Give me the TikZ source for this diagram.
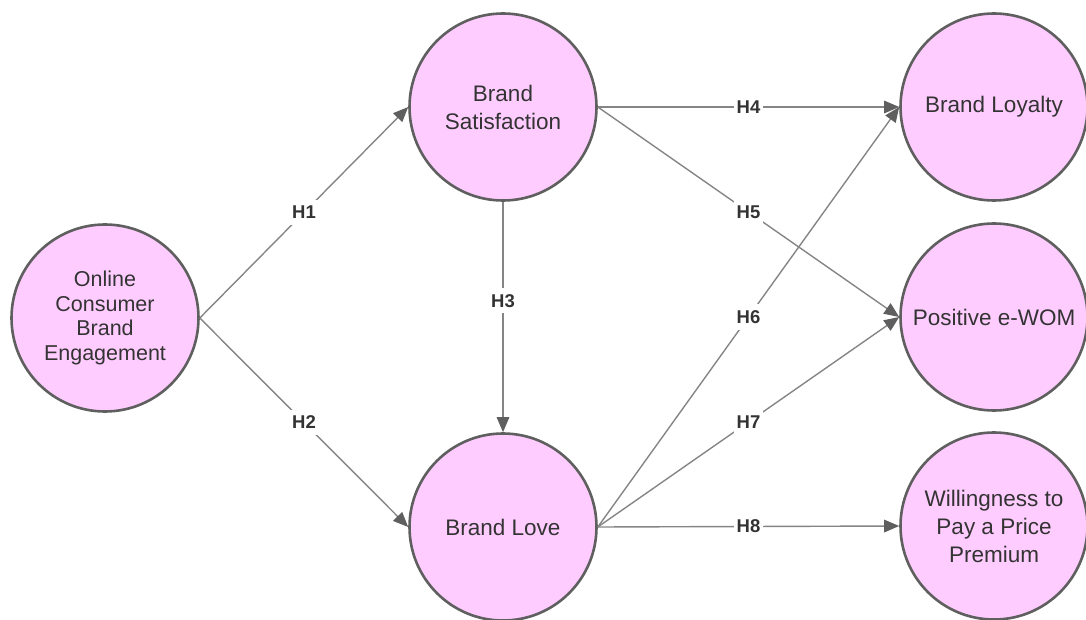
\documentclass[tikz,border=0pt]{standalone}
\usepackage{fontspec}
\setmainfont{Liberation Sans}
\usetikzlibrary{arrows.meta}
\definecolor{nodefill}{HTML}{FFCCFF}
\definecolor{nodeborder}{HTML}{5F5F5F}
\definecolor{txt}{HTML}{333333}
\definecolor{linegray}{HTML}{858585}
\definecolor{tipgray}{HTML}{5F5F5F}
\tikzset{
  construct/.style={circle, draw=nodeborder, fill=nodefill, line width=2.6pt,
    minimum size=187pt, inner sep=0pt, align=center, text=txt,
    font=\fontsize{22.5pt}{28pt}\selectfont},
  path/.style={draw=linegray, line width=1.4pt,
    -{Triangle[length=15pt,width=12.5pt,fill=tipgray,color=tipgray]}},
  hyp/.style={fill=white, text=txt, inner xsep=3pt, inner ysep=6pt,
    font=\fontsize{18.5pt}{20pt}\selectfont\bfseries}
}
\begin{document}
\begin{tikzpicture}[x=1pt,y=-1pt]
\useasboundingbox (0,0) rectangle (1086,620);
\node[construct, font=\fontsize{21.5pt}{24.5pt}\selectfont] (oce) at (105,318) {Online\\Consumer\\Brand\\Engagement};
\node[construct] (bs) at (503,107) {Brand\\Satisfaction};
\node[construct] (bl) at (503,527) {Brand Love};
\node[construct] (loy) at (994,107) {Brand Loyalty};
\node[construct] (wom) at (994,317) {Positive e-WOM};
\node[construct] (wpp) at (994,526) {Willingness to\\Pay a Price\\Premium};
\draw[path] (oce.east) -- node[hyp] {H1} (bs.west);
\draw[path] (oce.east) -- node[hyp] {H2} (bl.west);
\draw[path] (bs.south) -- node[hyp, pos=0.43] {H3} (bl.north);
\draw[path] (bs.east) -- node[hyp] {H4} (loy.west);
\draw[path] (bs.east) -- node[hyp] {H5} (wom.west);
\draw[path] (bl.east) -- node[hyp] {H6} (loy.west);
\draw[path] (bl.east) -- node[hyp] {H7} (wom.west);
\draw[path] (bl.east) -- node[hyp] {H8} (wpp.west);
\end{tikzpicture}
\end{document}
